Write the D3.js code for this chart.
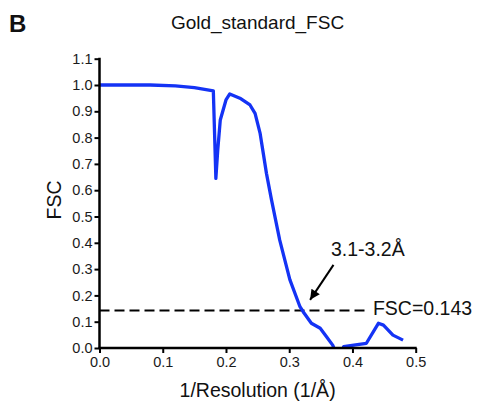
<!DOCTYPE html>
<html><head>
<meta charset="utf-8">
<script src="https://d3js.org/d3.v7.min.js"></script>
<style>
  body { margin: 0; background: #fff; }
  text { font-family: "Liberation Sans", Arial, sans-serif; fill: #111; }
  .axis line { stroke: #000; stroke-width: 2px; }
  .axis text { font-size: 14.5px; fill: #1a1a1a; }
</style>
</head>
<body>
<svg id="chart" width="479" height="406"></svg>
<script>
  // curve
  const resX = [0, 0.08, 0.12, 0.15, 0.18, 0.184, 0.187, 0.191, 0.2, 0.206, 0.222, 0.238, 0.246, 0.254,
                0.259, 0.264, 0.272, 0.285, 0.301, 0.317, 0.322, 0.335, 0.349, 0.359, 0.369, 0.375,
                0.382, 0.386, 0.405, 0.422, 0.441, 0.449, 0.464, 0.48];
  const fscY = [1.0, 1.0, 0.997, 0.99, 0.978, 0.645, 0.753, 0.867, 0.943, 0.966, 0.95, 0.924, 0.892, 0.816,
                0.74, 0.664, 0.563, 0.41, 0.26, 0.157, 0.138, 0.094, 0.075, 0.043, 0.01, -0.03,
                -0.03, 0.005, 0.012, 0.018, 0.094, 0.087, 0.049, 0.03];
  const xTicks = [0, 0.1, 0.2, 0.3, 0.4, 0.5];
  const yTicks = [0, 0.1, 0.2, 0.3, 0.4, 0.5, 0.6, 0.7, 0.8, 0.9, 1.0, 1.1];
  const threshold = 0.143;
  const thresholdEnd = 0.4245;
  const resLabel = "3.1-3.2Å";

  const svg = d3.select("#chart");
  const margin = { left: 99.5, top: 58.7, right: 63.3, bottom: 58 };
  const w = 479 - margin.left - margin.right;
  const h = 406 - margin.top - margin.bottom;

  const x = d3.scaleLinear().domain([0, 0.5]).range([0, w]);
  const y = d3.scaleLinear().domain([0, 1.1]).range([h, 0]);

  const defs = svg.append("defs");
  defs.append("clipPath").attr("id", "clip")
    .append("rect").attr("x", 0).attr("y", -5).attr("width", w + 5).attr("height", h + 5);
  defs.append("marker")
    .attr("id", "arrow").attr("viewBox", "0 0 10 10").attr("refX", 10).attr("refY", 5)
    .attr("markerWidth", 13).attr("markerHeight", 10).attr("markerUnits", "userSpaceOnUse")
    .attr("orient", "auto")
    .append("path").attr("d", "M0,0L10,5L0,10Z").attr("fill", "#000");

  const g = svg.append("g").attr("transform", `translate(${margin.left},${margin.top})`);

  // dashed threshold
  g.append("line")
    .attr("x1", x(0)).attr("x2", x(thresholdEnd))
    .attr("y1", y(threshold)).attr("y2", y(threshold))
    .attr("stroke", "#000").attr("stroke-width", 2).attr("stroke-dasharray", "10,5");
  g.append("text").attr("x", x(thresholdEnd) + 5).attr("y", y(threshold) + 5)
    .style("font-size", "19.5px").text("FSC=" + threshold);

  // FSC curve
  const pts = resX.map((d, i) => [d, fscY[i]]);
  g.append("path").datum(pts)
    .attr("clip-path", "url(#clip)")
    .attr("fill", "none").attr("stroke", "#1433f5").attr("stroke-width", 3.3)
    .attr("stroke-linejoin", "round")
    .attr("d", d3.line().x(d => x(d[0])).y(d => y(d[1])));

  // axes
  g.append("g").attr("class", "axis")
    .call(d3.axisLeft(y).tickValues(yTicks).tickFormat(d3.format(".1f")).tickSize(5).tickPadding(2))
    .call(a => a.select(".domain").remove());
  g.append("g").attr("class", "axis").attr("transform", `translate(0,${h})`)
    .call(d3.axisBottom(x).tickValues(xTicks).tickFormat(d3.format(".1f")).tickSize(5).tickPadding(4))
    .call(a => a.select(".domain").remove());
  g.append("line").attr("x1", 0).attr("x2", 0).attr("y1", y(1.1) - 1).attr("y2", y(0) + 1)
    .attr("stroke", "#000").attr("stroke-width", 2.5);
  g.append("line").attr("x1", -1).attr("x2", x(0.5) + 1).attr("y1", y(0)).attr("y2", y(0))
    .attr("stroke", "#000").attr("stroke-width", 2.5);

  // annotation arrow
  g.append("line")
    .attr("x1", x(0.37)).attr("y1", y(0.316))
    .attr("x2", x(0.333)).attr("y2", y(0.183))
    .attr("stroke", "#000").attr("stroke-width", 2)
    .attr("marker-end", "url(#arrow)");
  g.append("text").attr("x", x(0.366)).attr("y", y(0.348))
    .style("font-size", "19.5px").text(resLabel);

  // titles
  svg.append("text").attr("x", 9).attr("y", 31.5)
    .style("font-size", "24px").style("font-weight", "bold").text("B");
  svg.append("text").attr("x", 257.5).attr("y", 29).attr("text-anchor", "middle")
    .style("font-size", "19px").text("Gold_standard_FSC");
  svg.append("text").attr("transform", "translate(60.5,200) rotate(-90)")
    .attr("text-anchor", "middle").style("font-size", "19.5px").text("FSC");
  svg.append("text").attr("x", margin.left + x(0.25)).attr("y", 397).attr("text-anchor", "middle")
    .style("font-size", "19.5px").text("1/Resolution (1/Å)");
</script>
</body>
</html>
